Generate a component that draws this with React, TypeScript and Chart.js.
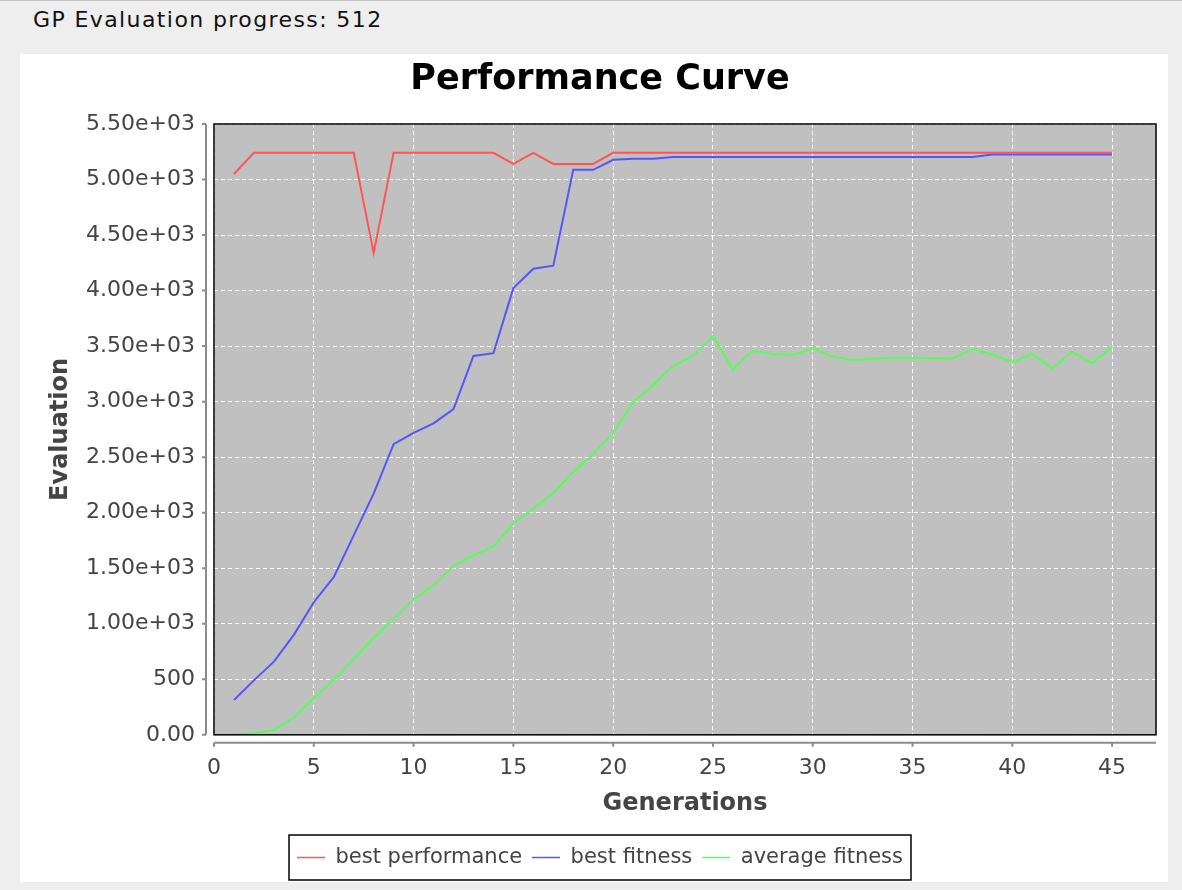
import React, { useEffect, useRef } from "react";
import { Chart, registerables } from "chart.js";

Chart.register(...registerables);

const generations = [
  1, 2, 3, 4, 5, 6, 7, 8, 9, 10, 11, 12, 13, 14, 15, 16, 17, 18, 19, 20, 21, 22,
  23, 24, 25, 26, 27, 28, 29, 30, 31, 32, 33, 34, 35, 36, 37, 38, 39, 40, 41, 42,
  43, 44, 45,
];

const bestPerformance = [
  5050, 5240, 5240, 5240, 5240, 5240, 5240, 4340, 5240, 5240, 5240, 5240, 5240,
  5240, 5140, 5240, 5140, 5140, 5140, 5240, 5240, 5240, 5240, 5240, 5240, 5240,
  5240, 5240, 5240, 5240, 5240, 5240, 5240, 5240, 5240, 5240, 5240, 5240, 5240,
  5240, 5240, 5240, 5240, 5240, 5240,
];

const bestFitness = [
  313, 490, 659, 900, 1194, 1420, 1796, 2172, 2617, 2719, 2804, 2933, 3411, 3436,
  4022, 4197, 4224, 5087, 5087, 5178, 5187, 5187, 5203, 5203, 5203, 5203, 5203,
  5203, 5203, 5203, 5203, 5203, 5203, 5203, 5203, 5203, 5203, 5203, 5225, 5225,
  5225, 5225, 5225, 5225, 5225,
];

const averageFitness = [
  6, 15, 42, 156, 331, 494, 683, 872, 1044, 1218, 1345, 1522, 1615, 1697, 1902,
  2037, 2178, 2367, 2527, 2714, 2994, 3150, 3321, 3411, 3592, 3291, 3457, 3430,
  3421, 3481, 3405, 3372, 3387, 3396, 3396, 3390, 3387, 3472, 3427, 3355, 3430,
  3300, 3448, 3346, 3499,
];

const seriesNames = ["best performance", "best fitness", "average fitness"];
const seriesColors = ["#ff5555", "#5555ff", "#55ff55"];

const yTickLabels = [
  "0.00", "500", "1.00e+03", "1.50e+03", "2.00e+03", "2.50e+03", "3.00e+03",
  "3.50e+03", "4.00e+03", "4.50e+03", "5.00e+03", "5.50e+03",
];
const xTickLabels = ["0", "5", "10", "15", "20", "25", "30", "35", "40", "45"];

const FONT = "'DejaVu Sans', sans-serif";
const CENTER_SHIFT = 12;

const framePlugin = {
  id: "jfreeFrame",
  afterLayout(chart: any) {
    [chart.titleBlock, chart.legend].forEach((b: any) => {
      if (!b) return;
      b.left += CENTER_SHIFT;
      b.right += CENTER_SHIFT;
    });
  },
  beforeDraw(chart: any) {
    const { ctx, chartArea: a } = chart;
    ctx.save();
    ctx.fillStyle = "#c0c0c0";
    ctx.fillRect(a.left, a.top, a.right - a.left, a.bottom - a.top);
    ctx.restore();
  },
  afterDraw(chart: any) {
    const { ctx, chartArea: a, scales } = chart;
    ctx.save();
    ctx.strokeStyle = "#000";
    ctx.lineWidth = 1.5;
    ctx.strokeRect(a.left, a.top, a.right - a.left, a.bottom - a.top);

    ctx.strokeStyle = "#8c8c8c";
    ctx.lineWidth = 2;
    ctx.beginPath();
    const ax = a.left - 8;
    ctx.moveTo(ax, a.top);
    ctx.lineTo(ax, a.bottom);
    scales.y.ticks.forEach((t: any) => {
      const y = scales.y.getPixelForValue(t.value);
      ctx.moveTo(ax - 4, y);
      ctx.lineTo(ax, y);
    });
    const ay = a.bottom + 8;
    ctx.moveTo(a.left, ay);
    ctx.lineTo(a.right, ay);
    scales.x.ticks.forEach((t: any) => {
      const x = scales.x.getPixelForValue(t.value);
      ctx.moveTo(x, ay);
      ctx.lineTo(x, ay + 4);
    });
    ctx.stroke();

    const lg = chart.legend;
    if (lg && lg.legendHitBoxes && lg.legendHitBoxes.length) {
      let l = Infinity, r = -Infinity, t = Infinity, b = -Infinity;
      lg.legendHitBoxes.forEach((h: any) => {
        l = Math.min(l, h.left);
        r = Math.max(r, h.left + h.width);
        t = Math.min(t, h.top);
        b = Math.max(b, h.top + h.height);
      });
      ctx.strokeStyle = "#000";
      ctx.lineWidth = 1.5;
      ctx.strokeRect(l - 8, t - 12, r - l + 16, b - t + 24);
    }
    ctx.restore();
  },
};

export default function App() {
  const ref = useRef<HTMLCanvasElement | null>(null);

  useEffect(() => {
    if (!ref.current) return;
    const datasets = seriesNames.map((name, i) => {
      const values = [bestPerformance, bestFitness, averageFitness][i];
      return {
        label: name,
        data: generations.map((g, k) => ({ x: g, y: values[k] })),
        borderColor: seriesColors[i],
        backgroundColor: seriesColors[i],
        borderWidth: 2,
        pointRadius: 0,
        tension: 0,
      };
    });

    const chart = new Chart(ref.current, {
      type: "line",
      data: { datasets },
      plugins: [framePlugin],
      options: {
        animation: false,
        responsive: false,
        layout: { padding: { left: 0, right: 12, top: 0, bottom: 4 } },
        plugins: {
          tooltip: { enabled: false },
          title: {
            display: true,
            text: "Performance Curve",
            color: "#000",
            font: { family: FONT, size: 35, weight: "bold" },
            padding: { top: 5, bottom: 23 },
          },
          legend: {
            display: true,
            position: "bottom",
            labels: {
              usePointStyle: true,
              pointStyle: "line",
              pointStyleWidth: 28,
              color: "#444",
              font: { family: FONT, size: 21 },
              padding: 10,
              generateLabels: (chart: any) =>
                chart.data.datasets.map((d: any, i: number) => ({
                  text: d.label,
                  fillStyle: d.borderColor,
                  strokeStyle: d.borderColor,
                  lineWidth: 1.5,
                  pointStyle: "line",
                  datasetIndex: i,
                  hidden: false,
                  fontColor: "#444",
                })),
            },
          },
        },
        scales: {
          x: {
            type: "linear",
            min: 0,
            max: 47.2,
            border: { display: false, dash: [4, 3] },
            grid: {
              color: "#ffffff",
              lineWidth: 1,
              drawTicks: true,
              tickLength: 17,
              tickColor: "rgba(0,0,0,0)",
            },
            ticks: {
              stepSize: 5,
              includeBounds: false,
              autoSkip: false,
              maxRotation: 0,
              padding: 3,
              color: "#444",
              font: { family: FONT, size: 22 },
              callback: (v: any) => xTickLabels[Math.round(Number(v) / 5)] ?? "",
            },
            title: {
              display: true,
              text: "Generations",
              color: "#444",
              font: { family: FONT, size: 24, weight: "bold" },
              padding: { top: 5, bottom: 19 },
            },
          },
          y: {
            type: "linear",
            min: 0,
            max: 5500,
            border: { display: false, dash: [4, 3] },
            grid: {
              color: "#ffffff",
              lineWidth: 1,
              drawTicks: true,
              tickLength: 16,
              tickColor: "rgba(0,0,0,0)",
            },
            ticks: {
              stepSize: 500,
              includeBounds: false,
              autoSkip: false,
              padding: 3,
              color: "#444",
              font: { family: FONT, size: 22 },
              callback: (v: any) => yTickLabels[Math.round(Number(v) / 500)] ?? "",
            },
            title: {
              display: true,
              text: "Evaluation",
              color: "#444",
              font: { family: FONT, size: 24, weight: "bold" },
              padding: { top: 26, bottom: 0 },
            },
            afterFit: (scale: any) => {
              scale.width = 194;
            },
          },
        },
      },
    } as any);
    return () => chart.destroy();
  }, []);

  return (
    <div
      style={{
        position: "fixed",
        left: 0,
        top: 0,
        width: 1182,
        height: 890,
        background: "#eeeeee",
        borderTop: "1px solid #c4c4c4",
        boxSizing: "border-box",
        overflow: "hidden",
      }}
    >
      <div
        style={{
          position: "absolute",
          left: 33,
          top: 8,
          fontFamily: FONT,
          fontSize: 22,
          lineHeight: "22px",
          letterSpacing: "1.4px",
          color: "#111",
          whiteSpace: "nowrap",
        }}
      >
        GP Evaluation progress: 512
      </div>
      <div
        style={{
          position: "absolute",
          left: 20,
          top: 53,
          width: 1148,
          height: 828,
          background: "#ffffff",
        }}
      >
        <canvas ref={ref} width={1148} height={828} style={{ display: "block" }} />
      </div>
    </div>
  );
}
